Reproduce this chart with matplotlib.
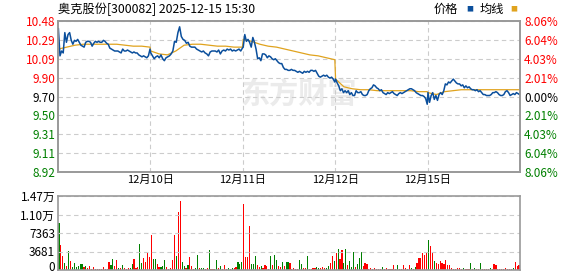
import numpy as np
import matplotlib.pyplot as plt
import matplotlib.transforms as mtransforms

plt.rcParams['font.family'] = ['Noto Sans CJK SC', 'DejaVu Sans']

# --- data ---
title = "奥克股份[300082] 2025-12-15 15:30"
day_labels = ["12月10日", "12月11日", "12月12日", "12月15日"]
prev_close = 9.70

price_day1 = [10.40, 10.12, 10.17, 10.15, 10.36, 10.26, 10.34, 10.36, 10.28, 10.24, 10.28, 10.27,
              10.29, 10.26, 10.23, 10.22, 10.21, 10.26, 10.27, 10.27, 10.26, 10.22, 10.25, 10.27,
              10.26, 10.27, 10.26, 10.26, 10.28, 10.27, 10.25, 10.24, 10.20, 10.19, 10.18, 10.17,
              10.17, 10.17, 10.16, 10.15, 10.19, 10.17, 10.17, 10.18, 10.17, 10.16, 10.15, 10.16,
              10.15, 10.15, 10.13, 10.12, 10.11, 10.12, 10.11, 10.10, 10.12, 10.19]
price_day2 = [10.15, 10.12, 10.09, 10.11, 10.12, 10.10, 10.13, 10.09, 10.07, 10.10, 10.11, 10.12,
              10.14, 10.17, 10.27, 10.26, 10.36, 10.42, 10.32, 10.29, 10.28, 10.25, 10.26, 10.22,
              10.21, 10.21, 10.21, 10.19, 10.18, 10.17, 10.16, 10.17, 10.15, 10.14, 10.12, 10.16,
              10.17, 10.17, 10.17, 10.16, 10.18, 10.14, 10.17, 10.18, 10.17, 10.19, 10.18, 10.19,
              10.17, 10.18, 10.17, 10.18, 10.19, 10.17, 10.20]
price_day3 = [10.21, 10.34, 10.27, 10.29, 10.26, 10.21, 10.31, 10.26, 10.19, 10.09, 10.10, 10.07,
              10.14, 10.14, 10.13, 10.10, 10.12, 10.11, 10.09, 10.08, 10.09, 10.07, 10.05, 10.04,
              10.04, 10.00, 9.98, 9.98, 9.97, 9.97, 9.98, 9.97, 9.97, 9.96, 9.95, 9.96,
              9.95, 9.94, 9.96, 9.95, 9.96, 9.95, 9.97, 9.97, 9.96, 9.97, 9.94, 9.91,
              9.90, 9.91, 9.92, 9.91, 9.92, 9.90, 9.89, 9.90, 9.88, 9.85]
price_day4 = [9.88, 9.84, 9.81, 9.76, 9.78, 9.74, 9.76, 9.74, 9.76, 9.72, 9.74, 9.71,
              9.71, 9.76, 9.74, 9.74, 9.75, 9.72, 9.71, 9.71, 9.72, 9.76, 9.78, 9.79,
              9.82, 9.81, 9.79, 9.78, 9.76, 9.77, 9.74, 9.73, 9.72, 9.74, 9.73, 9.74,
              9.75, 9.73, 9.72, 9.71, 9.73, 9.74, 9.73, 9.74, 9.75, 9.76, 9.77, 9.78,
              9.78, 9.77, 9.76, 9.74, 9.73, 9.72, 9.71, 9.71, 9.70, 9.68, 9.62]
price_day5 = [9.74, 9.64, 9.71, 9.74, 9.67, 9.71, 9.66, 9.72, 9.74, 9.72, 9.76, 9.83,
              9.82, 9.85, 9.84, 9.86, 9.88, 9.86, 9.84, 9.83, 9.83, 9.81, 9.82, 9.79,
              9.81, 9.79, 9.80, 9.78, 9.77, 9.77, 9.76, 9.77, 9.75, 9.76, 9.74, 9.72,
              9.72, 9.71, 9.71, 9.71, 9.72, 9.74, 9.74, 9.75, 9.74, 9.72, 9.71, 9.71,
              9.72, 9.75, 9.76, 9.74, 9.71, 9.72, 9.73, 9.72, 9.74, 9.73, 9.72]

avg_day1 = [10.19, 10.21, 10.23, 10.24, 10.24, 10.24, 10.24, 10.24, 10.23, 10.22, 10.22, 10.21]
avg_day2 = [10.17, 10.14, 10.13, 10.17, 10.23, 10.24, 10.24, 10.23, 10.22, 10.22, 10.21, 10.21]
avg_day3 = [10.29, 10.27, 10.24, 10.22, 10.21, 10.19, 10.17, 10.15, 10.13, 10.12, 10.10, 10.08]
avg_day4 = [9.88, 9.80, 9.78, 9.77, 9.77, 9.76, 9.76, 9.76, 9.76, 9.76, 9.75, 9.75]
avg_day5 = [9.74, 9.72, 9.75, 9.76, 9.77, 9.77, 9.77, 9.77, 9.77, 9.77, 9.77, 9.77]

vol_day1 = [9390, 5000, 2860, 1330, 870, 3860, 1860, 670, 1330, 670, 870, 1200,
            1200, 530, 800, 400, 800, 270, 600, 200, 200, 200, 200, 600,
            200, 200, 1600, 1070, 2200, 870, 2000, 400, 400, 1000, 400, 200,
            400, 400, 1200, 2200, 400, 670, 5200, 1330, 2400, 1530, 3330, 2500]
vol_day2 = [7000, 2200, 2200, 1200, 530, 670, 870, 2000, 530, 200, 400, 2000,
            7000, 2860, 11500, 13650, 1530, 870, 400, 1070, 2530, 870, 200, 400,
            3000, 400, 400, 400, 200, 400, 4000, 200, 200, 200, 2000, 400,
            870, 200, 1000, 200, 400, 200, 400, 400, 670, 1530, 1200, 1530]
vol_day3 = [13050, 2530, 2530, 8800, 1200, 1200, 2860, 1000, 670, 870, 400, 1000,
            870, 200, 2860, 1000, 3000, 2000, 870, 530, 1530, 870, 1530, 1530,
            1460, 200, 330, 200, 200, 1930, 1130, 470, 470, 2730, 200, 200,
            330, 330, 670, 470, 470, 670, 330, 330, 730, 1460, 2730, 1800]
vol_day4 = [3380, 4180, 2100, 4000, 1300, 4180, 1000, 1800, 600, 3520, 600, 1270,
            2300, 3520, 800, 1400, 1100, 200, 330, 200, 330, 200, 200, 200,
            600, 200, 470, 200, 200, 200, 930, 200, 930, 200, 200, 930,
            470, 200, 930, 470, 200, 600, 1460, 2330, 2460, 3460, 2930, 3660]
vol_day5 = [5930, 4800, 3460, 1800, 1460, 1200, 1800, 1300, 1100, 1930, 900, 930,
            400, 200, 200, 470, 330, 200, 470, 200, 200, 200, 1460, 200,
            330, 200, 200, 1330, 200, 200, 200, 200, 470, 200, 1130, 930,
            200, 200, 200, 200, 470, 200, 200, 200, 330, 1660, 800, 1000]
# r = up bar, g = down bar
vol_side = ["grrgrgrg" "gggggrgr" "rrrrrrrr" "rrrggrrg" "rgrrrggr" "rrggrrrr",
            "rggrrggg" "rrrrrgrr" "ggrgrrrg" "grggrrgr" "rggrgrrr" "grgrrggg",
            "rrrrgggr" "rgrrrrgr" "ggrrgrgg" "rrrrrggr" "rgrrrrgg" "rrrggrrg",
            "rgrrggrg" "ggrgggrr" "rrrrrrrr" "grrrrrrr" "grrrrrrg" "rgrrrrrr",
            "grrgrrrr" "rrrrrrrr" "rrgrrrgr" "grrgrrrr" "grrrrrrr" "rrrrgrrr"]

price_labels = ["8.92", "9.11", "9.31", "9.50", "9.70", "9.90", "10.09", "10.29", "10.48"]
pct_labels = ["8.06%", "6.04%", "4.03%", "2.01%", "0.00%", "2.01%", "4.03%", "6.04%", "8.06%"]
vol_labels = ["0", "3681", "7363", "1.10万", "1.47万"]
vol_max = 14726

prices = [price_day1, price_day2, price_day3, price_day4, price_day5]
avgs = [avg_day1, avg_day2, avg_day3, avg_day4, avg_day5]
vols = [vol_day1, vol_day2, vol_day3, vol_day4, vol_day5]

# --- figure ---
W, H = 578, 276
fig = plt.figure(figsize=(W / 100, H / 100), dpi=100)
ax = fig.add_axes([58 / W, 1 - 172 / H, 462 / W, 151 / H])
axv = fig.add_axes([58 / W, 1 - 270 / H, 462 / W, 74 / H])

RED, GREEN, BLUE, GOLD = "#ff0000", "#008000", "#0b4f9c", "#e0a31e"
DAY = 241

px, py, ax_, ay_ = [], [], [], []
for d in range(5):
    px += list(np.linspace(d * DAY + 1, d * DAY + DAY - 1, len(prices[d])))
    py += prices[d]
    ax_ += list(np.linspace(d * DAY + 1, d * DAY + DAY - 1, len(avgs[d])))
    ay_ += avgs[d]
ax.plot(ax_, ay_, color=GOLD, lw=0.9, zorder=3)
ax.plot(px, py, color=BLUE, lw=1.1, zorder=4)

lo, hi = 8.92, 10.48
ax.set_xlim(0, 5 * DAY)
ax.set_ylim(lo, hi)
ticks = np.linspace(lo, hi, 9)
ax.set_yticks(ticks)
ax.set_yticklabels(price_labels, fontsize=8.5)
for lab, t in zip(ax.get_yticklabels(), ticks):
    lab.set_color(RED if t > prev_close + 0.01 else (GREEN if t < prev_close - 0.01 else "black"))
ax.set_xticks([DAY * (i + 1) for i in range(4)])
ax.set_xticklabels(day_labels, fontsize=8)
ax.tick_params(length=0, pad=2)
ax.grid(True, ls=(0, (4, 3)), color="#cccccc", lw=0.8)

axr = ax.twinx()
axr.set_ylim(lo, hi)
axr.set_yticks(ticks)
axr.set_yticklabels(pct_labels, fontsize=8.5)
for lab, t in zip(axr.get_yticklabels(), ticks):
    lab.set_color(RED if t > prev_close + 0.01 else (GREEN if t < prev_close - 0.01 else "black"))
axr.tick_params(length=0, pad=3)

# watermark
ax.text(0.52, 0.52, "东方财富", transform=ax.transAxes, fontsize=21, fontweight="bold",
        color="#ebebeb", ha="center", va="center", zorder=1, style="italic")

# --- volume ---
bw = DAY / 48
for d in range(5):
    xs = d * DAY + (np.arange(48) + 0.5) * bw
    cols = [RED if c == "r" else GREEN for c in vol_side[d]]
    axv.bar(xs, vols[d], width=bw * 0.6, color=cols, linewidth=0)
axv.set_xlim(0, 5 * DAY)
axv.set_ylim(0, vol_max)
vt = np.linspace(0, vol_max, 5)
axv.set_yticks(vt)
axv.set_yticklabels(vol_labels, fontsize=8.5)
axv.set_xticks([])
axv.tick_params(length=0, pad=2)
axv.grid(True, axis="y", ls=(0, (4, 3)), color="#cccccc", lw=0.8)
# lift the "0" label so it stays inside the picture
zero_lab = axv.get_yticklabels()[0]
zero_lab.set_transform(zero_lab.get_transform() +
                       mtransforms.ScaledTranslation(0, 3 / 72, fig.dpi_scale_trans))

for a in (ax, axr, axv):
    for s in a.spines.values():
        s.set_color("#999999")
        s.set_linewidth(1.2)

# --- title and legend ---
fig.text(58 / W, 1 - 9 / H, title, fontsize=8.8, va="center", ha="left")
fig.text(434 / W, 1 - 9 / H, "价格", fontsize=8.8, va="center", ha="left")
fig.text(466 / W, 1 - 9 / H, "■", fontsize=5, va="center", ha="left", color=BLUE)
fig.text(480 / W, 1 - 9 / H, "均线", fontsize=8.8, va="center", ha="left")
fig.text(510 / W, 1 - 9 / H, "■", fontsize=5, va="center", ha="left", color=GOLD)

fig.savefig("out.png", dpi=100)
